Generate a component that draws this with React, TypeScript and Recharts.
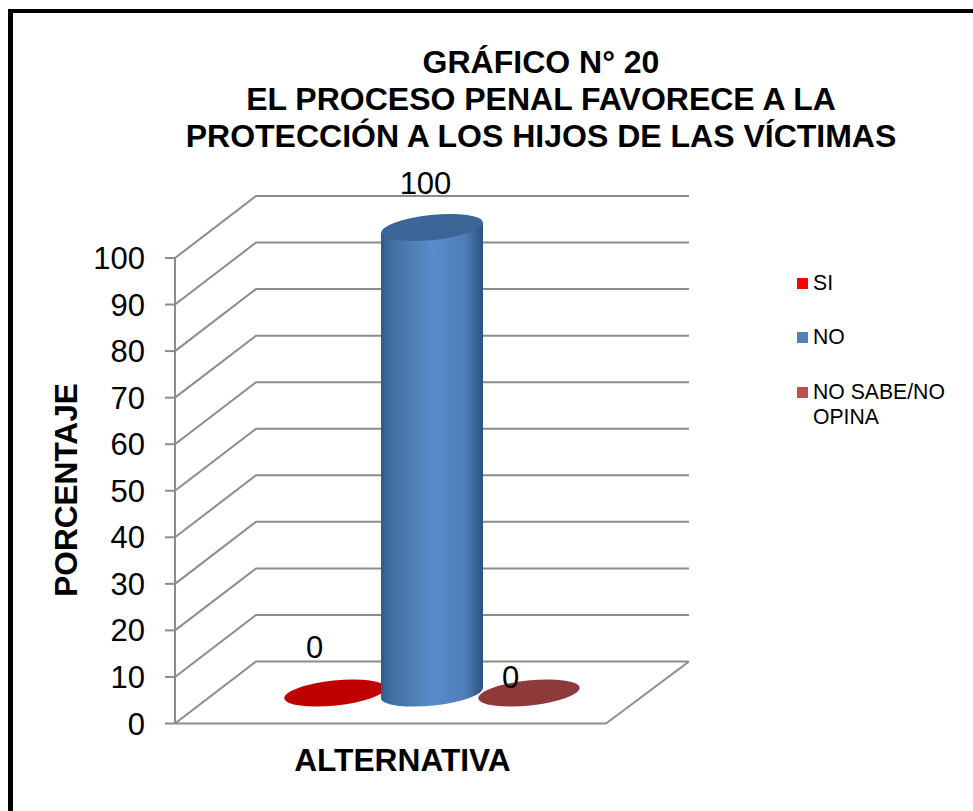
import { Bar, BarChart, CartesianGrid, LabelList, Legend, XAxis, YAxis } from "recharts";

const categories = ["ALTERNATIVA"];
const siValues = [0];
const noValues = [100];
const noSabeValues = [0];
const yTicks = [0, 10, 20, 30, 40, 50, 60, 70, 80, 90, 100];
const titleLines = [
  "GRÁFICO N° 20",
  "EL PROCESO PENAL FAVORECE A LA",
  "PROTECCIÓN A LOS HIJOS DE LAS VÍCTIMAS",
];
const seriesNames = ["SI", "NO", "NO SABE/NO OPINA"];

const chartData = categories.map((name, i) => ({
  name,
  si: siValues[i],
  no: noValues[i],
  noSabe: noSabeValues[i],
}));

const FONT = '"Liberation Sans", Arial, sans-serif';
const GRID = "#8c8c8c";
const PLOT_BOTTOM = 723.5;

// how far the back wall sits behind the front plane
const DEPTH_X = 81;
const DEPTH_Y = 62;
const TILT = -6;
const RX = 51;
const RY = 12.5;
const EDGE_DY = 5.5;

function gridLine(props: any) {
  const { x1, x2, y1 } = props;
  const backX = x1 + DEPTH_X;
  const backY = y1 - DEPTH_Y;
  let d = `M${x1},${y1} L${backX},${backY} L689,${backY}`;
  // the floor also gets its right edge
  if (Math.abs(y1 - PLOT_BOTTOM) < 1) d += ` M${x2},${y1} L689,${backY} M${x1},${y1} L${x2},${y1}`;
  return <path key={`grid-${y1}`} d={d} fill="none" stroke={GRID} strokeWidth={2} />;
}

function Cylinder(props: any) {
  const { x, y, width, height, gradient, topColor } = props;
  const cx = x + width / 2 + DEPTH_X / 2 + 1;
  const top = y - DEPTH_Y / 2 + 0.5;
  const bottom = y + height - DEPTH_Y / 2 + 0.5;
  if (height < 1) {
    return (
      <ellipse
        cx={cx}
        cy={bottom}
        rx={RX}
        ry={RY}
        fill={topColor}
        transform={`rotate(${TILT} ${cx} ${bottom})`}
      />
    );
  }
  const side =
    `M${cx - RX},${top + EDGE_DY} L${cx - RX},${bottom + EDGE_DY} ` +
    `A${RX},${RY} ${TILT} 0 0 ${cx + RX},${bottom - EDGE_DY} L${cx + RX},${top - EDGE_DY} Z`;
  return (
    <g>
      <path d={side} fill={`url(#${gradient})`} />
      <ellipse
        cx={cx}
        cy={top}
        rx={RX}
        ry={RY}
        fill={topColor}
        transform={`rotate(${TILT} ${cx} ${top})`}
      />
    </g>
  );
}

// data labels were moved by hand in the original, so each series has its own offset
function dataLabel(dx: number, dy: number) {
  return (props: any) => {
    const { x, y, width, value } = props;
    return (
      <text
        x={x + width / 2 + dx}
        y={y + dy}
        textAnchor="middle"
        fontFamily={FONT}
        fontSize={31}
        fill="#000"
      >
        {value}
      </text>
    );
  };
}

const swatches = ["#ff0000", "#4f81bd", "#c0504d"];
const swatchTops = [278, 332, 387];

function LegendBox() {
  return (
    <div style={{ position: "relative", width: 175, height: 170, fontFamily: FONT, fontSize: 21.2, lineHeight: "25px", color: "#000" }}>
      {seriesNames.map((name, i) => (
        <div key={name}>
          <div
            style={{
              position: "absolute",
              left: 0,
              top: swatchTops[i] - 278,
              width: 11,
              height: 11,
              background: swatches[i],
            }}
          />
          <div
            style={{
              position: "absolute",
              left: 16,
              top: swatchTops[i] - 278 - 8,
              width: 145,
            }}
          >
            {name}
          </div>
        </div>
      ))}
    </div>
  );
}

export default function App() {
  return (
    <div style={{ position: "absolute", left: 0, top: 0, width: 973, height: 811, overflow: "hidden", background: "#fff" }}>
      <div
        style={{
          position: "absolute",
          left: 8,
          top: 9,
          width: 980,
          height: 820,
          borderLeft: "5px solid #000",
          borderTop: "4px solid #000",
        }}
      />
      <div style={{ position: "absolute", left: 0, top: 0 }}>
        <BarChart
          width={973}
          height={811}
          data={chartData}
          barSize={97}
          barGap={0}
          margin={{ top: 258, right: 192, bottom: 0, left: 0 }}
        >
          <defs>
            <linearGradient id="noSide" x1="0" y1="0" x2="1" y2="0">
              <stop offset="0" stopColor="#2f5a8c" />
              <stop offset="0.1" stopColor="#41709f" />
              <stop offset="0.5" stopColor="#5a8bcb" />
              <stop offset="0.82" stopColor="#4e7fb9" />
              <stop offset="1" stopColor="#2c527e" />
            </linearGradient>
          </defs>
          <CartesianGrid horizontal={gridLine} vertical={false} />
          <XAxis
            dataKey="name"
            height={87.5}
            tick={false}
            axisLine={false}
            tickLine={false}
            label={{
              value: categories[0],
              position: "insideBottom",
              offset: 40,
              dx: 12,
              fontFamily: FONT,
              fontSize: 31.7,
              fontWeight: 700,
              fill: "#000",
            }}
          />
          <YAxis
            width={175}
            domain={[0, 100]}
            ticks={yTicks}
            interval={0}
            tick={{ fontFamily: FONT, fontSize: 31, fill: "#000" }}
            tickSize={10}
            tickMargin={20}
            tickLine={{ stroke: GRID, strokeWidth: 2 }}
            axisLine={{ stroke: GRID, strokeWidth: 2 }}
            label={{
              value: "PORCENTAJE",
              angle: -90,
              position: "insideLeft",
              offset: 0,
              dx: 66,
              dy: 106,
              fontFamily: FONT,
              fontSize: 31.6,
              fontWeight: 700,
              fill: "#000",
            }}
          />
          <Legend
            layout="vertical"
            verticalAlign="top"
            align="right"
            wrapperStyle={{ left: 797, top: 278, width: 175 }}
            content={() => <LegendBox />}
          />
          <Bar
            dataKey="si"
            name={seriesNames[0]}
            isAnimationActive={false}
            shape={(p: any) => <Cylinder {...p} topColor="#c00000" />}
          >
            <LabelList dataKey="si" content={dataLabel(21, -66)} />
          </Bar>
          <Bar
            dataKey="no"
            name={seriesNames[1]}
            isAnimationActive={false}
            shape={(p: any) => <Cylinder {...p} gradient="noSide" topColor="#3a6596" />}
          >
            <LabelList dataKey="no" content={dataLabel(35, -64)} />
          </Bar>
          <Bar
            dataKey="noSabe"
            name={seriesNames[2]}
            isAnimationActive={false}
            shape={(p: any) => <Cylinder {...p} topColor="#8e3a3a" />}
          >
            <LabelList dataKey="noSabe" content={dataLabel(23, -36)} />
          </Bar>
          <text textAnchor="middle" fontFamily={FONT} fontSize={32} fontWeight={700} fill="#000">
            {titleLines.map((line, i) => (
              <tspan key={line} x={541} y={72.5 + i * 37}>
                {line}
              </tspan>
            ))}
          </text>
        </BarChart>
      </div>
    </div>
  );
}
